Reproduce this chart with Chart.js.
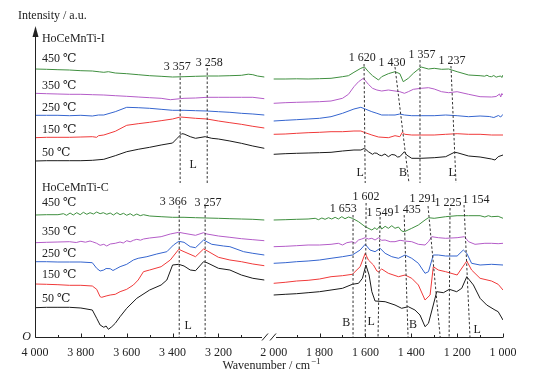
<!DOCTYPE html>
<html>
<head>
<meta charset="utf-8">
<script src="https://cdn.jsdelivr.net/npm/chart.js@4.4.0/dist/chart.umd.min.js"></script>
<style>
html, body { margin: 0; padding: 0; background: #fff; }
#wrap { width: 536px; height: 380px; }
</style>
</head>
<body>
<div id="wrap"><canvas id="chart" width="536" height="380"></canvas></div>
<script>
// spectra: [wavenumber, intensity (a.u., stacked offset)]
// HoCeMnTi-I, 4000-3000 and 2000-1000 cm-1
const i450L = [[4000,268],[3950,267.7],[3900,267.3],[3850,267],[3800,266.3],[3750,266],[3720,265.2],[3700,264.7],[3680,265.3],[3650,264],[3600,263.3],[3550,262.3],[3500,261.3],[3450,260.7],[3400,260],[3350,260.3],[3300,260.7],[3250,261],[3200,261],[3150,261.3],[3100,261.7],[3070,262.8],[3050,262.3],[3030,261],[3000,260]];
const i450R = [[2000,258],[1950,258],[1900,258.2],[1850,258],[1800,258.3],[1750,258.7],[1700,260.3],[1674,261.3],[1650,264.7],[1620,268.7],[1604,270],[1587,265.3],[1569,261.3],[1543,257],[1529,260.3],[1500,263.3],[1471,265.3],[1450,263.3],[1435,255.3],[1413,258.7],[1391,263.7],[1357,270],[1325,268],[1300,268.7],[1268,267.7],[1237,268],[1200,265.3],[1150,262],[1100,261.3],[1080,260.8],[1070,261.8],[1060,260.5],[1050,260.3],[1040,261.5],[1030,259.8],[1021,260.5],[1010,261],[1005,259.5],[1000,262]];
const i350L = [[4000,243.7],[3950,243.3],[3900,243],[3850,242.7],[3800,242.7],[3750,242.3],[3700,242],[3650,241.3],[3600,240.7],[3550,240],[3500,239.3],[3450,238.7],[3410,237.3],[3350,238.7],[3300,239],[3250,239.7],[3200,239.7],[3150,239.7],[3100,239.7],[3050,239.7],[3000,238.3]];
const i350R = [[2000,233.7],[1950,234.3],[1900,234.7],[1850,235],[1800,235.3],[1750,236],[1700,238.7],[1674,242.7],[1650,250.3],[1630,255.3],[1609,258.7],[1587,252.7],[1569,248.7],[1550,247],[1529,246],[1500,247],[1471,246],[1450,245.3],[1430,243.7],[1413,245.3],[1391,247.7],[1357,248.7],[1325,249.3],[1300,248],[1268,245.3],[1237,244.3],[1200,245.3],[1150,242.7],[1100,240.3],[1050,240],[1030,240.5],[1015,243],[1010,240],[1005,243.5],[1000,242]];
const i250L = [[4000,221.7],[3950,221.7],[3900,221.7],[3850,221.3],[3800,221.7],[3750,221],[3723,222],[3700,222],[3650,225.3],[3600,229.7],[3550,229.3],[3500,228.7],[3450,227.7],[3400,226.7],[3350,226.7],[3300,226.3],[3250,226],[3200,225.3],[3150,224.7],[3100,223.7],[3050,223],[3000,222]];
const i250R = [[2000,216],[1950,216.7],[1900,217.3],[1850,218],[1800,218.7],[1750,220.3],[1700,223.7],[1650,228],[1620,229.7],[1601,228],[1572,225.3],[1550,223.7],[1529,222],[1500,222],[1471,222],[1450,223],[1430,222],[1398,221.3],[1357,221.3],[1300,221.3],[1250,222],[1200,221.3],[1150,220.3],[1100,221],[1060,220.5],[1050,220],[1040,219.5],[1020,221.5],[1010,220],[1000,222.7]];
const i150L = [[4000,199.3],[3950,199.7],[3900,199.7],[3850,199.7],[3800,200],[3750,200.3],[3731,199.7],[3723,201.3],[3700,202],[3650,205.7],[3600,211.7],[3550,213.3],[3500,214.7],[3450,216.3],[3400,218],[3367,220],[3350,219.7],[3300,218.7],[3250,218],[3200,216],[3150,214.3],[3100,212.7],[3050,210.7],[3000,209]];
const i150R = [[2000,202.7],[1950,203],[1900,203.7],[1850,204.3],[1800,204.7],[1750,205.3],[1700,205.3],[1650,206],[1620,206],[1601,204.3],[1572,202],[1543,200],[1500,199.3],[1471,201.3],[1450,200.3],[1439,204.7],[1428,202.7],[1398,202],[1357,202],[1300,202],[1250,202.7],[1200,203.3],[1150,202.7],[1100,202.7],[1050,202],[1000,202]];
const i50L = [[4000,176],[3950,176.3],[3900,176.3],[3850,176.3],[3800,176.3],[3750,176.7],[3700,177.7],[3650,181.3],[3600,185.3],[3550,187.7],[3500,189.7],[3450,192],[3400,194],[3380,198.7],[3360,203.3],[3350,203],[3323,200.3],[3300,198.7],[3258,200.3],[3229,198.7],[3200,198],[3150,196],[3100,193.7],[3050,191],[3000,188.7]];
const i50R = [[2000,182.7],[1950,183.3],[1900,183.7],[1850,184],[1800,184.3],[1750,184.7],[1700,186],[1650,187],[1620,187],[1604,188.7],[1587,185.3],[1569,182.7],[1560,184],[1550,183.7],[1540,182],[1529,181.3],[1515,183],[1500,180.3],[1485,182.5],[1471,182],[1460,180],[1450,180.3],[1430,185.3],[1420,182],[1398,178.7],[1357,178.7],[1300,179.3],[1250,180.3],[1212,184.7],[1200,184.3],[1150,181],[1100,180],[1050,178],[1035,177],[1021,180.3],[1000,182]];

// HoCeMnTi-C
const c450L = [[4000,122],[3950,122.3],[3900,122.3],[3876,123.3],[3862,121.7],[3847,124],[3833,122],[3818,124.3],[3803,122.3],[3789,124.7],[3774,122.7],[3760,124.3],[3745,123],[3731,125],[3716,123.3],[3702,124.3],[3687,122.7],[3672,124],[3658,122],[3643,124.3],[3629,122.3],[3614,123.7],[3600,121.7],[3585,123.3],[3571,121.3],[3556,123],[3541,121.3],[3527,122.3],[3500,121],[3450,120.3],[3400,119.7],[3350,119.7],[3300,119.3],[3250,119],[3200,118.7],[3150,118.3],[3100,118],[3050,117.7],[3000,117]];
const c450R = [[2000,117],[1950,117.3],[1900,117.7],[1850,118],[1819,118.7],[1805,117.3],[1790,119],[1776,117.7],[1761,119.3],[1747,118],[1732,119.7],[1718,118],[1703,120.3],[1689,118.3],[1674,120],[1657,118.7],[1630,115.3],[1601,110.3],[1572,107],[1558,109.3],[1550,107.3],[1536,111.3],[1529,108],[1514,110.7],[1500,108.7],[1485,111.3],[1471,108.7],[1456,110],[1442,106],[1430,105.3],[1398,108.7],[1369,112],[1340,117],[1325,119.3],[1300,118.7],[1250,120.3],[1200,121.3],[1150,121.3],[1100,121.3],[1079,120],[1064,121.3],[1050,120.3],[1021,120.7],[1000,118.7]];
const c350L = [[4000,94.3],[3950,94.7],[3900,95],[3850,95.3],[3820,94.5],[3800,95.7],[3780,94.8],[3760,96],[3750,95.3],[3731,93.7],[3716,91.7],[3700,92.7],[3687,91],[3672,93],[3650,93.7],[3629,95],[3615,94],[3600,96.3],[3585,95.2],[3571,96.7],[3556,97.7],[3540,96.8],[3527,98],[3500,99],[3450,100.3],[3410,103],[3373,104.7],[3350,103.7],[3300,101.7],[3265,104.3],[3250,103],[3200,101],[3150,99.7],[3100,98.3],[3050,97.3],[3000,96.3]];
const c350R = [[2000,90.3],[1950,90.7],[1900,91.3],[1850,92],[1800,92],[1750,92.7],[1718,93.7],[1700,92],[1681,94.3],[1657,95.3],[1645,93.7],[1630,97],[1616,98],[1601,99.3],[1587,98],[1572,98.7],[1558,97],[1543,99.3],[1529,96.7],[1514,97],[1492,95.3],[1471,95.3],[1449,96.7],[1430,96],[1398,95.3],[1369,92.7],[1340,92],[1325,95.3],[1311,100.3],[1282,99.3],[1250,98.7],[1200,99.3],[1168,100.3],[1150,95.3],[1122,92.7],[1079,93.7],[1050,93.7],[1021,93.3],[1000,93.7]];
const c250L = [[4000,75.3],[3950,75.3],[3900,75],[3850,75],[3800,75],[3750,74.3],[3731,68.7],[3716,66],[3700,67],[3690,68.5],[3672,68.3],[3660,66.5],[3650,67.7],[3629,70.3],[3600,72.7],[3571,77],[3550,78.7],[3512,80.3],[3469,83],[3425,85.3],[3396,92],[3373,95.7],[3350,94.7],[3323,90.3],[3300,89.3],[3265,97],[3229,92.7],[3178,91],[3150,90.3],[3090,85.3],[3050,83.7],[3000,82]];
const c250R = [[2000,73.7],[1950,74.3],[1900,75.3],[1850,76],[1800,77],[1750,78.7],[1700,80.3],[1657,82],[1623,87],[1601,92.7],[1580,87],[1558,85.3],[1536,88.7],[1514,83.7],[1485,80.3],[1456,78.7],[1427,82],[1398,78.7],[1369,73.7],[1340,63.7],[1325,65.3],[1304,82],[1282,82],[1250,81],[1200,81],[1173,87],[1158,83.7],[1137,73.7],[1100,72],[1050,72.7],[1000,72]];
const c150L = [[4000,53],[3950,52.7],[3900,52.3],[3850,51.7],[3800,51.7],[3750,51],[3731,47.7],[3716,40.3],[3709,39.7],[3690,41],[3672,42],[3650,42.7],[3629,45.3],[3600,47.7],[3571,52],[3550,57],[3527,65.3],[3500,67],[3450,70.3],[3410,77],[3373,87.7],[3350,85.3],[3300,80.3],[3265,88],[3250,86.3],[3200,79.7],[3150,77],[3100,75.3],[3050,73],[3000,71.3]];
const c150R = [[2000,53.7],[1950,54.7],[1900,56],[1850,56.7],[1800,58],[1750,60.3],[1700,61.3],[1657,62.7],[1623,70.3],[1601,83.7],[1587,77],[1565,72],[1550,66],[1543,65.3],[1529,68],[1500,63.7],[1456,60.3],[1427,62],[1398,58.7],[1369,52],[1340,37],[1318,42],[1304,70.3],[1282,67],[1250,65.3],[1200,62],[1158,76],[1137,67],[1100,58.7],[1050,56],[1021,52.7],[1000,47]];
const c50L = [[4000,29.3],[3950,29.7],[3900,29.7],[3850,29.7],[3800,29],[3750,27],[3731,18.7],[3716,12],[3700,9.7],[3690,11],[3680,7.7],[3665,10.3],[3650,13.7],[3629,20.3],[3600,28.7],[3556,38.7],[3500,47],[3450,52],[3425,57],[3400,72],[3373,72.7],[3350,71],[3323,67],[3300,66.3],[3265,75.3],[3250,74.3],[3200,68.7],[3150,67],[3100,62],[3050,58.7],[3000,57]];
const c50R = [[2000,42],[1950,42.7],[1900,43.3],[1850,44.3],[1800,45.3],[1750,47],[1700,48.7],[1657,52.7],[1630,53.7],[1613,58.7],[1598,72],[1584,62],[1572,45.3],[1558,36],[1514,35.3],[1471,32],[1442,28.7],[1413,30.3],[1384,27],[1362,22],[1340,10.3],[1325,13.7],[1304,32],[1289,45.3],[1260,44.3],[1234,47.7],[1202,45.3],[1180,48.7],[1158,60.3],[1129,52],[1100,38.7],[1071,32],[1035,27],[1021,25.3],[1000,17]];

// axis ticks
const majorTicks = [4000, 3800, 3600, 3400, 3200, 1800, 1600, 1400, 1200, 1000];
const minorTicks = [3900, 3700, 3500, 3300, 3100, 1900, 1700, 1500, 1300, 1100];
const tickLabels = [4000, 3800, 3600, 3400, 3200, 2000, 1800, 1600, 1400, 1200, 1000];

// text labels: [text, wavenumber, intensity]
const panelLabels = [
    ['HoCeMnTi-I', 298], ['450 ℃', 278], ['350 ℃', 251], ['250 ℃', 229], ['150 ℃', 207], ['50 ℃', 184],
    ['HoCeMnTi-C', 149], ['450 ℃', 134], ['350 ℃', 105], ['250 ℃', 83], ['150 ℃', 62], ['50 ℃', 38]
];
const peakLabels = [
    [3357, 3380, 270], [3258, 3240, 274], [1620, 1614, 279], [1430, 1484, 274], [1357, 1353, 282], [1237, 1222, 276],
    [3366, 3397, 135], [3257, 3245, 134], [1653, 1697, 128], [1602, 1597, 140], [1549, 1536, 124], [1435, 1418, 127],
    [1291, 1349, 138], [1225, 1240, 134], [1154, 1118, 137]
];
const bandLabels = [
    ['L', 3310, 172], ['L', 1623, 164], ['B', 1436, 164], ['L', 1222, 164],
    ['L', 3332, 11], ['B', 1684, 14], ['L', 1575, 15], ['B', 1392, 12], ['L', 1113, 7]
];
// dashed guide lines: [w top, v top, w bottom, v bottom]
const guideLines = [
    [3367, 264, 3367, 154], [3249, 269, 3249, 154],
    [1606, 273, 1601, 154], [1471, 270, 1410, 154], [1362, 277, 1362, 154], [1227, 271, 1205, 154],
    [3371, 131, 3371, 0], [3258, 131, 3258, 0],
    [1654, 122, 1654, 0], [1597, 134, 1601, 0], [1536, 120, 1545, 0], [1431, 122, 1414, 0],
    [1327, 131, 1274, 0], [1231, 129, 1235, 0], [1170, 132, 1144, 0]
];

const GREEN = '#3f8f3f';
const PURPLE = '#b45cc8';
const BLUE = '#3565cf';
const RED = '#f03a3a';
const BLACK = '#1a1a1a';

const series = [
    [i450L, i450R, GREEN], [i350L, i350R, PURPLE], [i250L, i250R, BLUE], [i150L, i150R, RED], [i50L, i50R, BLACK],
    [c450L, c450R, GREEN], [c350L, c350R, PURPLE], [c250L, c250R, BLUE], [c150L, c150R, RED], [c50L, c50R, BLACK]
];

// broken axis: 4000-3000 then 2000-1000, small gap between
const GAP = 41;
function pos(w) {
    return w >= 2500 ? 4000 - w : 1000 + GAP + (2000 - w);
}

function fmt(n) {
    return String(n).replace(/(\d)(\d{3})$/, '$1 $2');
}

const datasets = series.map(function (s) {
    const pts = s[0].map(p => ({ x: pos(p[0]), y: p[1] }))
        .concat([{ x: 1000 + GAP / 2, y: null }])
        .concat(s[1].map(p => ({ x: pos(p[0]), y: p[1] })));
    return {
        data: pts,
        borderColor: s[2],
        borderWidth: 1,
        pointRadius: 0,
        tension: 0,
        spanGaps: false,
        fill: false
    };
});

const FONT = '12px "Liberation Serif", "DejaVu Serif", serif';

const decorations = {
    id: 'decorations',
    afterDraw(chart) {
        const ctx = chart.ctx;
        const xs = chart.scales.x;
        const ys = chart.scales.y;
        const X = w => xs.getPixelForValue(pos(w));
        const Y = v => ys.getPixelForValue(v);
        const y0 = Math.round(Y(0)) + 0.5;
        const x0 = Math.round(X(4000)) + 0.5;

        ctx.save();
        ctx.strokeStyle = '#222';
        ctx.fillStyle = '#222';
        ctx.lineWidth = 1;

        // y axis with arrow
        ctx.beginPath();
        ctx.moveTo(x0, y0);
        ctx.lineTo(x0, Y(302));
        ctx.stroke();
        ctx.beginPath();
        ctx.moveTo(x0, Y(311));
        ctx.lineTo(x0 - 3, Y(300));
        ctx.lineTo(x0 + 3, Y(300));
        ctx.closePath();
        ctx.fill();

        // x axis, broken
        const gapMid = xs.getPixelForValue(1000 + GAP / 2);
        ctx.beginPath();
        ctx.moveTo(x0, y0);
        ctx.lineTo(gapMid - 7, y0);
        ctx.moveTo(gapMid + 7, y0);
        ctx.lineTo(X(1000), y0);
        ctx.stroke();
        ctx.beginPath();
        ctx.moveTo(gapMid - 7, y0 + 3);
        ctx.lineTo(gapMid - 1, y0 - 4);
        ctx.moveTo(gapMid + 1, y0 + 3);
        ctx.lineTo(gapMid + 7, y0 - 4);
        ctx.stroke();

        // ticks pointing inward
        ctx.beginPath();
        majorTicks.forEach(function (w) {
            const x = Math.round(X(w)) + 0.5;
            ctx.moveTo(x, y0);
            ctx.lineTo(x, y0 - 4);
        });
        minorTicks.forEach(function (w) {
            const x = Math.round(X(w)) + 0.5;
            ctx.moveTo(x, y0);
            ctx.lineTo(x, y0 - 2.5);
        });
        ctx.stroke();

        ctx.font = FONT;
        ctx.textAlign = 'center';
        ctx.textBaseline = 'middle';
        tickLabels.forEach(function (w) {
            ctx.fillText(fmt(w), X(w), y0 + 15);
        });

        // axis titles
        const tTitle = 'Wavenumber / cm';
        const tw = ctx.measureText(tTitle).width;
        ctx.font = '9px "Liberation Serif", "DejaVu Serif", serif';
        const sw = ctx.measureText('\u22121').width;
        ctx.font = FONT;
        const tx = gapMid + 2 - (tw + sw) / 2;
        ctx.textAlign = 'left';
        ctx.fillText(tTitle, tx, y0 + 28);
        ctx.font = '9px "Liberation Serif", "DejaVu Serif", serif';
        ctx.fillText('\u22121', tx + tw + 1, y0 + 24);

        ctx.font = FONT;
        ctx.fillText('Intensity / a.u.', 18, 16);
        ctx.font = 'italic ' + FONT;
        ctx.textAlign = 'center';
        ctx.fillText('O', x0 - 9, y0 - 1);

        // panel and temperature labels
        ctx.font = FONT;
        ctx.textAlign = 'left';
        panelLabels.forEach(function (l) {
            ctx.fillText(l[0], X(3970), Y(l[1]));
        });

        // peak positions
        ctx.textAlign = 'center';
        peakLabels.forEach(function (l) {
            ctx.fillText(fmt(l[0]), X(l[1]), Y(l[2]));
        });
        bandLabels.forEach(function (l) {
            ctx.fillText(l[0], X(l[1]), Y(l[2]));
        });

        // dashed guides
        ctx.setLineDash([2.5, 2]);
        ctx.strokeStyle = '#333';
        ctx.beginPath();
        guideLines.forEach(function (g) {
            ctx.moveTo(X(g[0]), Y(g[1]));
            ctx.lineTo(X(g[2]), Y(g[3]));
        });
        ctx.stroke();
        ctx.restore();
    }
};

new Chart(document.getElementById('chart').getContext('2d'), {
    type: 'line',
    data: { datasets: datasets },
    options: {
        responsive: false,
        animation: false,
        devicePixelRatio: 1,
        layout: { padding: { left: 35, right: 33, top: 27, bottom: 43 } },
        plugins: { legend: { display: false }, tooltip: { enabled: false } },
        scales: {
            x: { type: 'linear', min: 0, max: 1000 + GAP + 1000, display: false },
            y: { type: 'linear', min: 0, max: 310, display: false }
        }
    },
    plugins: [decorations]
});
</script>
</body>
</html>
